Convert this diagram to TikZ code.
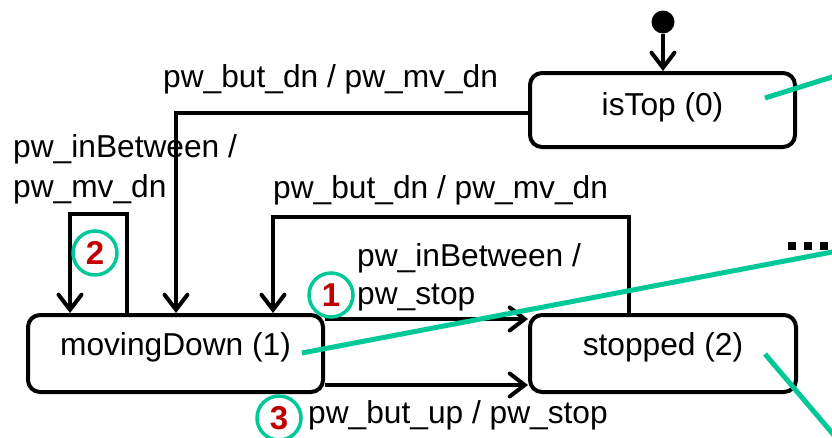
\documentclass[tikz,border=0pt]{standalone}
\usepackage{fontspec}
\setmainfont{Liberation Sans}
\usetikzlibrary{arrows.meta}
\definecolor{annogreen}{RGB}{0,200,150}
\definecolor{annored}{RGB}{192,0,0}
\begin{document}
\begin{tikzpicture}[x=1pt,y=-1pt,
  statebox/.style={draw, line width=4pt, rounded corners=12pt, inner sep=0pt,
    text height=22pt, text depth=18pt, font=\fontsize{31.7}{38}\selectfont},
  conn/.style={line width=4pt, line join=miter, -{Straight Barb[length=15pt,width=23pt,line cap=round]}},
  lbl/.style={font=\fontsize{31.7}{40}\selectfont, inner sep=0pt, align=left},
  num/.style={circle, draw=annogreen, line width=3.5pt, minimum size=44pt, inner sep=0pt,
    text=annored, font=\fontsize{33}{33}\selectfont\bfseries},
  ann/.style={draw=annogreen, line width=5pt},
  dotsq/.style={fill=black, minimum size=8.5pt, inner sep=0pt}]
\useasboundingbox (0,0) rectangle (832,437);
\clip (0,0) rectangle (832,437);

% states
\node[statebox, text depth=12pt, minimum width=265pt, minimum height=74pt] (isTop) at (662.5,110) {isTop (0)};
\node[statebox, minimum width=295pt, minimum height=77pt] (mDown) at (175.5,353.5) {movingDown (1)};
\node[statebox, minimum width=266pt, minimum height=77pt] (stopped) at (663,353.5) {stopped (2)};

% initial pseudo state
\node[circle, fill=black, inner sep=0pt, minimum size=23pt] (init) at (663,22) {};
\draw[conn] (init) -- (init |- isTop.north);

% isTop -> movingDown
\coordinate (a1) at (176,113);
\draw[conn] (isTop.west |- a1) -- (a1) -- (a1 |- mDown.north);
\node[lbl, anchor=base west] (la1) at (163,87) {pw\_but\_dn / pw\_mv\_dn};

% self loop on movingDown
\coordinate (s1) at (70,214);
\coordinate (s2) at (127,214);
\draw[conn] (s2 |- mDown.north) -- (s2) -- (s1) -- (s1 |- mDown.north);
\node[lbl, anchor=base west] (ls1) at (13,157) {pw\_inBetween /};
\node[lbl, anchor=base west] (ls2) at (13,197) {pw\_mv\_dn};
\node[num] (n2) at (95,253) {2};

% stopped -> movingDown
\coordinate (b1) at (629,217);
\coordinate (b2) at (273,217);
\draw[conn] (b1 |- stopped.north) -- (b1) -- (b2) -- (b2 |- mDown.north);
\node[lbl, anchor=base west] (lb1) at (273,198) {pw\_but\_dn / pw\_mv\_dn};

% movingDown -> stopped (inBetween)
\coordinate (c1) at (0,319);
\draw[conn] (mDown.east |- c1) -- (stopped.west |- c1);
\node[lbl, anchor=base west] (lc1) at (357,266) {pw\_inBetween /};
\node[lbl, anchor=base west] (lc2) at (357,304) {pw\_stop};
\node[num] (n1) at (331,295) {1};

% movingDown -> stopped (but_up)
\coordinate (d0) at (0,385);
\draw[conn] (mDown.east |- d0) -- (stopped.west |- d0);
\node[lbl, anchor=base west] (ld1) at (308,423) {pw\_but\_up / pw\_stop};
\node[num] (n3) at (279,418) {3};

% ellipsis
\node[dotsq] (e1) at (792,246) {};
\node[dotsq] (e2) at (808,246) {};
\node[dotsq] (e3) at (824,246) {};

% annotation lines
\coordinate (g1a) at (765,98);
\coordinate (g1b) at (850,71.4);
\coordinate (g2a) at (302,353);
\coordinate (g2b) at (850,248.6);
\coordinate (g3a) at (765,354);
\coordinate (g3b) at (850,454);
\draw[ann] (g1a) -- (g1b);
\draw[ann] (g2a) -- (g2b);
\draw[ann] (g3a) -- (g3b);
\end{tikzpicture}
\end{document}
